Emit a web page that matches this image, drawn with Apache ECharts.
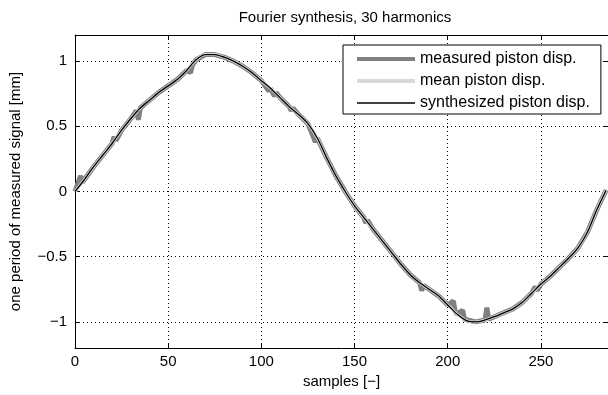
<!DOCTYPE html>
<html>
<head>
<meta charset="utf-8">
<script src="https://cdn.jsdelivr.net/npm/echarts@6/dist/echarts.min.js"></script>
<style>html,body{margin:0;padding:0;background:#fff}#c{width:608px;height:395px}</style>
</head>
<body>
<div id="c"></div>
<script>
const titleText = 'Fourier synthesis, 30 harmonics';
const xName = 'samples [\u2212]';
const yName = 'one period of measured signal [mm]';
const seriesNames = ['measured piston disp.', 'mean piston disp.', 'synthesized piston disp.'];
const yTicks = [-1, -0.5, 0, 0.5, 1];

const synthX = [0,5,10,15,20,25,30,35,40,45,50,55,60,65,70,75,80,85,90,95,100,105,110,115,120,125,130,135,140,145,150,155,160,165,170,175,180,185,190,195,200,205,210,215,220,225,230,235,240,245,250,255,260,265,270,275,280,285];
const synthY = [0.00,0.09,0.19,0.28,0.37,0.47,0.56,0.64,0.70,0.76,0.81,0.86,0.93,1.01,1.05,1.05,1.03,1.00,0.96,0.91,0.85,0.79,0.72,0.65,0.59,0.52,0.41,0.26,0.12,0.00,-0.11,-0.20,-0.29,-0.38,-0.47,-0.56,-0.64,-0.70,-0.75,-0.80,-0.87,-0.94,-0.99,-1.00,-0.985,-0.96,-0.93,-0.90,-0.85,-0.78,-0.71,-0.65,-0.58,-0.51,-0.43,-0.31,-0.14,0.01];

const meanX = [0,5,10,15,20,25,30,35,40,45,50,55,60,65,70,75,80,85,90,95,100,105,110,115,120,125,130,135,140,145,150,155,160,165,170,175,180,185,190,195,200,205,210,215,220,225,230,235,240,245,250,255,260,265,270,275,280,285];
const meanY = [0.00,0.09,0.19,0.28,0.37,0.47,0.56,0.64,0.70,0.76,0.81,0.86,0.93,1.01,1.05,1.05,1.03,1.00,0.96,0.91,0.85,0.79,0.72,0.65,0.59,0.52,0.41,0.26,0.12,0.00,-0.11,-0.20,-0.29,-0.38,-0.47,-0.56,-0.64,-0.70,-0.75,-0.80,-0.87,-0.94,-0.99,-1.00,-0.985,-0.96,-0.93,-0.90,-0.85,-0.78,-0.71,-0.65,-0.58,-0.51,-0.43,-0.31,-0.14,0.01];

const measX = [0,3,4,5,10,15,20,21,22,25,30,33,34,35,40,45,50,55,60,62,63,65,70,75,80,85,90,95,100,104,105,107,108,110,115,116,117,120,125,129,130,135,140,145,150,155,156,157,160,165,170,175,180,185,186,187,190,195,200,203,204,205,208,209,210,215,220,221,222,225,230,235,240,245,247,248,250,255,260,265,270,275,280,285];
const measY = [0.00,0.12,0.07,0.09,0.19,0.28,0.37,0.42,0.39,0.47,0.56,0.62,0.55,0.64,0.70,0.76,0.81,0.86,0.93,0.91,0.97,1.01,1.05,1.05,1.03,1.00,0.96,0.91,0.85,0.77,0.79,0.73,0.76,0.72,0.65,0.62,0.64,0.59,0.52,0.38,0.41,0.26,0.12,0.00,-0.11,-0.20,-0.24,-0.22,-0.29,-0.38,-0.47,-0.56,-0.64,-0.70,-0.76,-0.72,-0.75,-0.80,-0.87,-0.84,-0.92,-0.94,-0.91,-0.98,-0.99,-1.00,-0.985,-0.89,-0.98,-0.96,-0.93,-0.90,-0.85,-0.78,-0.73,-0.76,-0.71,-0.65,-0.58,-0.51,-0.43,-0.31,-0.14,0.01];

const zip = (xs, ys) => xs.map((x, i) => [x, ys[i]]);
const FONT = 'Liberation Sans';
const FS = 15;

const chart = echarts.init(document.getElementById('c'), null, {renderer: 'canvas'});
const axisLine = {show: true, onZero: false, lineStyle: {color: '#000', width: 1}};
const tick = {show: true, inside: true, length: 5, lineStyle: {color: '#000'}};
const hideSym = {opacity: 0, borderWidth: 0};
chart.setOption({
  animation: false,
  backgroundColor: '#fff',
  title: {
    text: titleText, left: 340, textAlign: 'center', top: 5,
    textStyle: {fontFamily: FONT, fontSize: FS, fontWeight: 'normal', color: '#000'}
  },
  grid: {left: 75, right: -1, top: 35, bottom: 47, show: false},
  legend: {
    orient: 'vertical', left: 343, top: 45,
    padding: [6, 11, 3, 12], itemGap: 6, itemWidth: 58, itemHeight: 14,
    borderColor: '#000', borderWidth: 1, backgroundColor: '#fff',
    textStyle: {fontFamily: FONT, fontSize: 16, color: '#000'},
    data: [
      {name: seriesNames[0], lineStyle: {width: 4, color: '#808080'}, itemStyle: hideSym},
      {name: seriesNames[1], lineStyle: {width: 4, color: '#d9d9d9'}, itemStyle: hideSym},
      {name: seriesNames[2], lineStyle: {width: 1.5, color: '#000'}, itemStyle: hideSym}
    ]
  },
  xAxis: [
    {
      type: 'value', min: 0, max: 286, interval: 50, position: 'bottom',
      name: xName, nameLocation: 'middle', nameGap: 26,
      nameTextStyle: {fontFamily: FONT, fontSize: FS, color: '#000'},
      axisLine: axisLine, axisTick: tick,
      axisLabel: {fontFamily: FONT, fontSize: FS, color: '#000', margin: 6, showMaxLabel: false},
      splitLine: {show: true, lineStyle: {color: '#000', type: [1, 3], width: 1}}
    },
    {
      type: 'value', min: 0, max: 286, interval: 50, position: 'top',
      axisLine: axisLine, axisTick: tick,
      axisLabel: {show: false}, splitLine: {show: false}
    }
  ],
  yAxis: [
    {
      type: 'value', min: -1.2, max: 1.2, interval: 0.5, position: 'left',
      name: yName, nameLocation: 'middle', nameGap: 52, nameRotate: 90,
      nameTextStyle: {fontFamily: FONT, fontSize: FS, color: '#000'},
      axisLine: axisLine,
      axisLabel: {fontFamily: FONT, fontSize: FS, color: '#000', margin: 8,
        customValues: yTicks,
        formatter: v => (Math.abs(v) < 1e-9 ? '0' : String(v).replace('-', '\u2212'))},
      axisTick: Object.assign({customValues: yTicks}, tick),
      splitLine: {show: true, lineStyle: {color: '#000', type: [1, 3], width: 1}}
    },
    {
      type: 'value', min: -1.2, max: 1.2, position: 'right',
      axisLine: axisLine,
      axisTick: Object.assign({customValues: yTicks}, tick),
      axisLabel: {show: false, customValues: yTicks}, splitLine: {show: false}
    }
  ],
  series: [
    {name: seriesNames[0], type: 'line', data: zip(measX, measY), symbol: 'none',
     lineStyle: {color: '#808080', width: 5}, itemStyle: {color: '#808080'}, z: 2},
    {name: seriesNames[1], type: 'line', data: zip(meanX, meanY), symbol: 'none', smooth: 0.3,
     lineStyle: {color: '#d9d9d9', width: 3}, itemStyle: {color: '#d9d9d9'}, z: 3},
    {name: seriesNames[2], type: 'line', data: zip(synthX, synthY), symbol: 'none', smooth: 0.3,
     lineStyle: {color: '#000', width: 1.3}, itemStyle: {color: '#000'}, z: 4}
  ]
});
</script>
</body>
</html>
